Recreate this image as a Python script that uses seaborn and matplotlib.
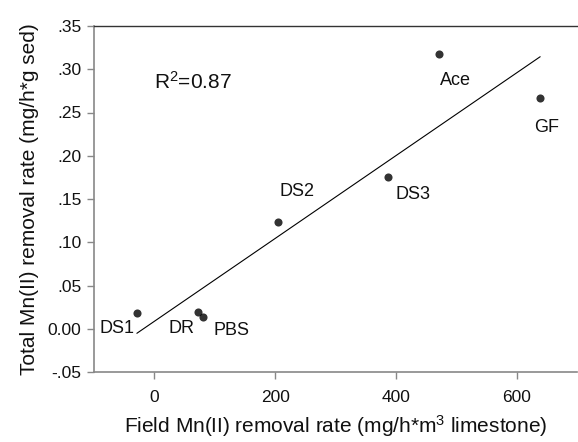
import numpy as np
import pandas as pd
import matplotlib
matplotlib.use("Agg")
import matplotlib.pyplot as plt
import seaborn as sns

sites = ["DS1", "DR", "PBS", "DS2", "DS3", "Ace", "GF"]
field_rate = [-29, 73, 80, 204, 387, 471, 639]
total_rate = [0.0177, 0.0197, 0.0139, 0.123, 0.175, 0.318, 0.2666]
label_offsets = {  # in points (dx, dy)
    "DS1": (-14, -11), "DR": (-12, -12), "PBS": (21, -10), "DS2": (14, 22),
    "DS3": (18, -12), "Ace": (12, -19), "GF": (5, -21),
}
x_ticks = [0, 200, 400, 600]
y_ticks = [-0.05, 0.0, 0.05, 0.10, 0.15, 0.20, 0.25, 0.30, 0.35]
y_tick_labels = ["-.05", "0.00", ".05", ".10", ".15", ".20", ".25", ".30", ".35"]

sns.set_style("ticks")
plt.rcParams["font.family"] = ["Liberation Sans", "DejaVu Sans"]
plt.rcParams["mathtext.fontset"] = "custom"
plt.rcParams["mathtext.rm"] = "Liberation Sans"
plt.rcParams["mathtext.it"] = "Liberation Sans:italic"
plt.rcParams["mathtext.default"] = "rm"

df = pd.DataFrame({"site": sites, "x": field_rate, "y": total_rate})

fig = plt.figure(figsize=(5.78, 4.42), dpi=100)
ax = fig.add_axes([94 / 578, 1 - 372 / 442, (577 - 94) / 578, (372 - 26) / 442])

sns.regplot(data=df, x="x", y="y", ax=ax, ci=None, truncate=True,
            scatter_kws=dict(s=34, color="black", linewidths=0, zorder=3),
            line_kws=dict(color="black", lw=0.8))

for s, xv, yv in zip(sites, field_rate, total_rate):
    dx, dy = label_offsets[s]
    ax.annotate(s, (xv, yv), xytext=(dx, dy), textcoords="offset points",
                ha="center", va="center", fontsize=13, color="#111")

ax.text(0.125, 0.838, r"R$^2$=0.87", transform=ax.transAxes, fontsize=15,
        ha="left", va="center", color="#111")

ax.set_xlim(-100, 700)
ax.set_ylim(-0.05, 0.35)
ax.set_xticks(x_ticks)
ax.set_yticks(y_ticks)
ax.set_yticklabels(y_tick_labels)
ax.tick_params(axis="both", labelsize=12.5, length=5, width=1, color="#888",
               labelcolor="#111", direction="out", pad=4)
ax.tick_params(axis="x", pad=8)

ax.set_xlabel(r"Field Mn(II) removal rate (mg/h*m$^3$ limestone)", fontsize=15, color="#111", labelpad=6)
ax.set_ylabel("Total Mn(II) removal rate (mg/h*g sed)", fontsize=15, color="#111", labelpad=6)

for side in ["left", "bottom"]:
    ax.spines[side].set_color("#888")
    ax.spines[side].set_linewidth(1.2)
ax.spines["top"].set_color("#333")
ax.spines["top"].set_linewidth(1.0)
ax.spines["right"].set_visible(False)

fig.savefig("out.png", dpi=100)
